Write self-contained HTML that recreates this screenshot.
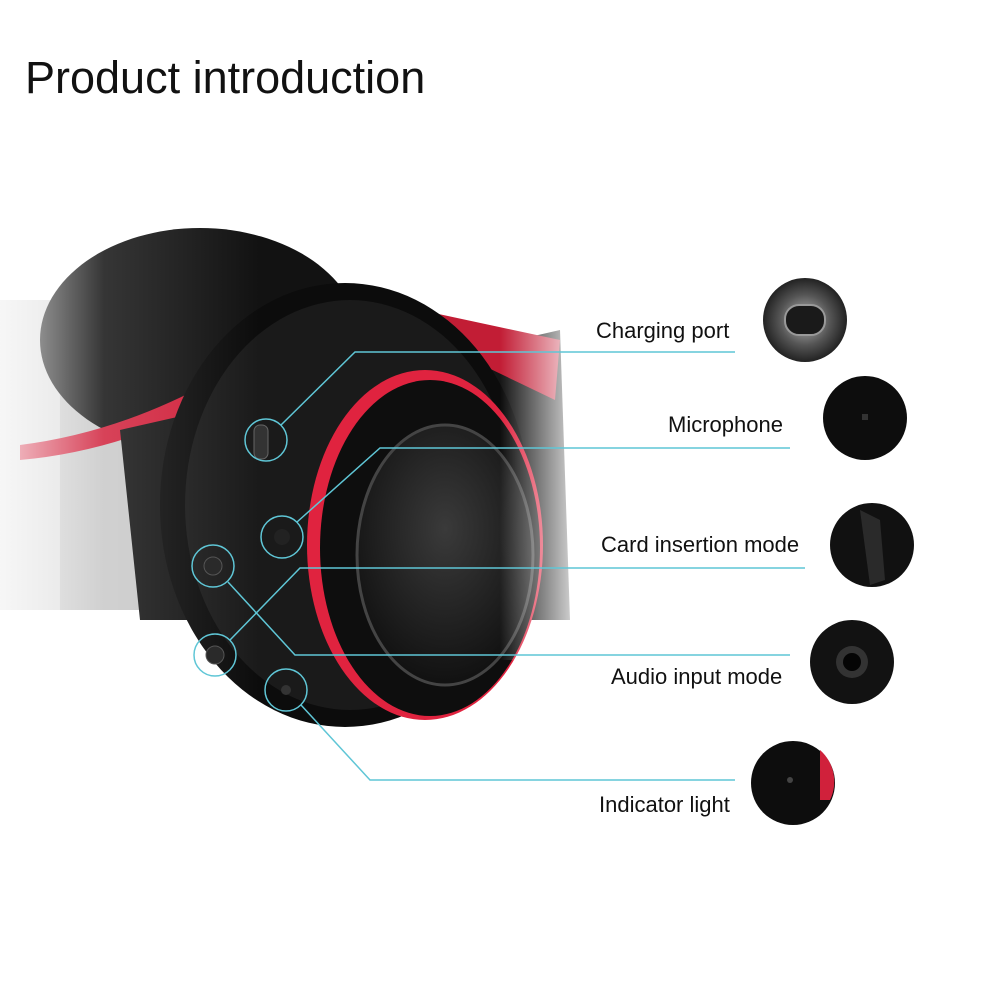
<!DOCTYPE html>
<html><head><meta charset="utf-8"><style>
html,body{margin:0;padding:0;background:#fff;}
svg{display:block}
text{font-family:"Liberation Sans",sans-serif;fill:#111}
</style></head><body>
<svg width="1000" height="1000" viewBox="0 0 1000 1000" xmlns="http://www.w3.org/2000/svg">
<defs>
<linearGradient id="fade" x1="0" x2="1" y1="0" y2="0">
<stop offset="0" stop-color="#fff" stop-opacity="0.75"/>
<stop offset="0.4" stop-color="#fff" stop-opacity="0.15"/>
<stop offset="1" stop-color="#fff" stop-opacity="0"/>
</linearGradient>
<linearGradient id="rfade" x1="0" x2="1" y1="0" y2="0">
<stop offset="0" stop-color="#fff" stop-opacity="0"/>
<stop offset="0.6" stop-color="#fff" stop-opacity="0.8"/>
<stop offset="1" stop-color="#fff" stop-opacity="1"/>
</linearGradient>
<radialGradient id="disc" cx="0.5" cy="0.4" r="0.6">
<stop offset="0" stop-color="#3a3a3a"/>
<stop offset="1" stop-color="#111"/>
</radialGradient>
<radialGradient id="t1" cx="0.5" cy="0.5" r="0.5">
<stop offset="0" stop-color="#bbb"/><stop offset="0.6" stop-color="#555"/><stop offset="1" stop-color="#222"/>
</radialGradient>
</defs>
<rect width="1000" height="1000" fill="#fff"/>
<text x="25" y="93" font-size="45">Product introduction</text>

<rect x="0" y="310" width="200" height="300" fill="#c8c8c8"/>
<rect x="0" y="300" width="60" height="310" fill="#dedede"/>
<ellipse cx="200" cy="340" rx="160" ry="112" fill="#121212"/>
<path d="M20,445 Q180,425 330,300 L345,310 Q190,445 20,460Z" fill="#d0213b"/>
<path d="M120,430 L560,330 L570,620 L140,620Z" fill="#151515"/>
<path d="M420,310 L560,340 L555,400 L430,340Z" fill="#c21d35"/>
<ellipse cx="345" cy="505" rx="185" ry="222" fill="#0c0c0c"/>
<ellipse cx="350" cy="505" rx="165" ry="205" fill="#1a1a1a"/>
<ellipse cx="425" cy="545" rx="118" ry="175" fill="#e0233f"/>
<ellipse cx="430" cy="548" rx="110" ry="168" fill="#0e0e0e"/>
<ellipse cx="445" cy="555" rx="88" ry="130" fill="url(#disc)"/>
<ellipse cx="445" cy="555" rx="88" ry="130" fill="none" stroke="#444" stroke-width="3"/>
<rect x="0" y="220" width="260" height="520" fill="url(#fade)"/>
<rect x="500" y="280" width="120" height="380" fill="url(#rfade)"/>

<rect x="254" y="425" width="14" height="34" rx="6" fill="#333" stroke="#666"/>
<circle cx="282" cy="537" r="8" fill="#222"/>
<circle cx="213" cy="566" r="9" fill="#2a2a2a" stroke="#555"/>
<circle cx="215" cy="655" r="9" fill="#2a2a2a" stroke="#555"/>
<circle cx="286" cy="690" r="5" fill="#333"/>

<g fill="none" stroke="#5fc6d6" stroke-width="1.5">
<circle cx="266" cy="440" r="21"/>
<circle cx="282" cy="537" r="21"/>
<circle cx="213" cy="566" r="21"/>
<circle cx="215" cy="655" r="21"/>
<circle cx="286" cy="690" r="21"/>
<polyline points="281,425 355,352 735,352"/>
<polyline points="297,522 380,448 790,448"/>
<polyline points="230,640 300,568 805,568"/>
<polyline points="228,582 295,655 790,655"/>
<polyline points="301,705 370,780 735,780"/>
</g>

<text x="596" y="338" font-size="22">Charging port</text>
<text x="668" y="432" font-size="22">Microphone</text>
<text x="601" y="552" font-size="22">Card insertion mode</text>
<text x="611" y="684" font-size="22">Audio input mode</text>
<text x="599" y="812" font-size="22">Indicator light</text>

<circle cx="805" cy="320" r="42" fill="url(#t1)"/>
<rect x="785" y="305" width="40" height="30" rx="14" fill="#1a1a1a" stroke="#999" stroke-width="2"/>
<circle cx="865" cy="418" r="42" fill="#0d0d0d"/>
<rect x="862" y="414" width="6" height="6" fill="#333"/>
<circle cx="872" cy="545" r="42" fill="#111"/>
<path d="M860,510 L880,520 L885,580 L870,585Z" fill="#2a2a2a"/>
<circle cx="852" cy="662" r="42" fill="#121212"/>
<circle cx="852" cy="662" r="16" fill="#333"/>
<circle cx="852" cy="662" r="9" fill="#050505"/>
<circle cx="793" cy="783" r="42" fill="#0d0d0d"/>
<path d="M820,750 A42,42 0 0 1 830,800 L820,800Z" fill="#d0213b"/>
<circle cx="790" cy="780" r="3" fill="#444"/>
</svg>
</body></html>
